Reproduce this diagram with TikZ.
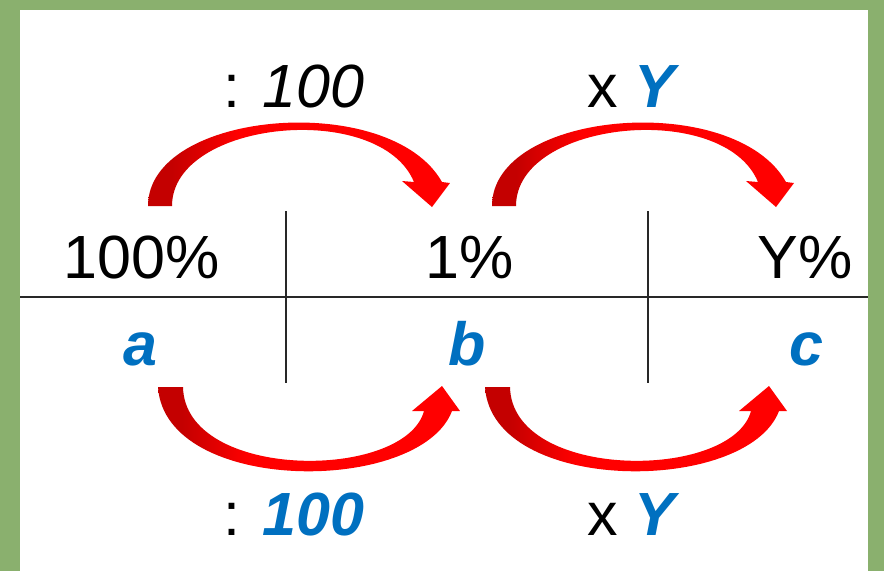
\documentclass[tikz,border=0pt]{standalone}
\usepackage{fontspec}
\setmainfont{Liberation Sans}
\definecolor{grass}{RGB}{138,176,110}
\definecolor{ablue}{RGB}{0,112,192}
\definecolor{dred}{RGB}{196,0,0}
\definecolor{bred}{RGB}{255,0,0}
\definecolor{rulec}{RGB}{40,40,40}
\pgfdeclarehorizontalshading{arrowshade}{100bp}{color(0bp)=(dred); color(25bp)=(dred); color(29bp)=(dred); color(40bp)=(bred); color(100bp)=(bred)}
\tikzset{
  txt/.style={inner sep=0pt, anchor=base, font=\fontsize{61}{70}\selectfont},
  lbl/.style={inner sep=0pt, anchor=base west, font=\fontsize{61}{70}\selectfont},
  var/.style={txt, text=ablue, font=\fontsize{61}{70}\selectfont\bfseries\itshape},
  rulestyle/.style={draw=rulec, line width=1.8pt},
  toparrow/.pic={
    \shade[shading=arrowshade] (148,206) .. controls (148,110) and (390,90) .. (442,182)
      -- (450,183) -- (432,207) -- (402,181) -- (414,182)
      .. controls (380,100) and (172,120) .. (172,206) -- cycle;
  },
  botarrow/.pic={
    \shade[shading=arrowshade] (158,387) .. controls (165,495) and (420,495) .. (452,411)
      -- (460,411) -- (442,386) -- (412,411) -- (424,411)
      .. controls (405,481) and (185,481) .. (183,387) -- cycle;
  }
}
\begin{document}
\begin{tikzpicture}[x=1pt,y=-1pt]
\useasboundingbox (0,0) rectangle (884,571);
\fill[grass] (0,0) rectangle (884,571);
\fill[white] (20,10) rectangle (868,571);

% table lines
\coordinate (hl) at (20,297);
\coordinate (hr) at (868,297);
\coordinate (v1t) at (286,211);
\coordinate (v1b) at (286,383);
\coordinate (v2t) at (648,211);
\coordinate (v2b) at (648,383);
\draw[rulestyle] (hl) -- (hr);
\draw[rulestyle] (v1t) -- (v1b);
\draw[rulestyle] (v2t) -- (v2b);

% cells
\node[txt] (p100) at (142,278) {100\%};
\node[txt] (p1) at (470,278) {1\%};
\node[txt] (pY) at (805,278) {Y\%};
\node[var] (a) at (140,365) {a};
\node[var] (b) at (467,365) {b};
\node[var] (c) at (806,365) {c};

% arrows
\pic at (0,0) {toparrow};
\pic at (344,0) {toparrow};
\pic at (0,0) {botarrow};
\pic at (327,0) {botarrow};

% operation labels
\node[lbl] (tdiv) at (223,107) {: \textit{100}};
\node[lbl] (tmul) at (587,107) {x \textcolor{ablue}{\bfseries\itshape Y}};
\node[lbl] (bdiv) at (223,535) {: \textcolor{ablue}{\bfseries\itshape 100}};
\node[lbl] (bmul) at (587,535) {x \textcolor{ablue}{\bfseries\itshape Y}};
\end{tikzpicture}
\end{document}
